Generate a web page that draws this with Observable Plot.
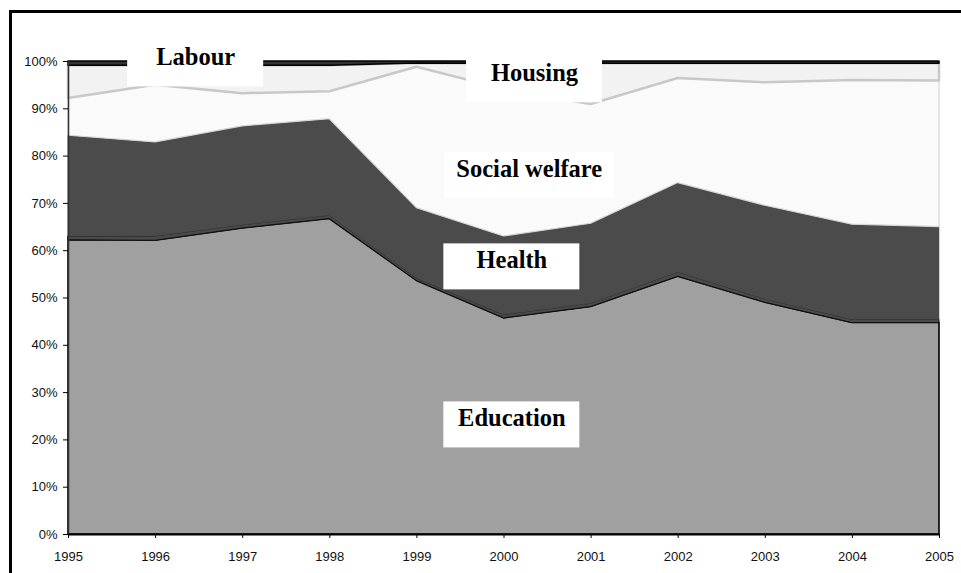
<!DOCTYPE html>
<html>
<head>
<meta charset="utf-8">
<script src="https://cdn.jsdelivr.net/npm/d3@7"></script>
<script src="https://cdn.jsdelivr.net/npm/@observablehq/plot@0.6"></script>
<style>
  html, body { margin: 0; padding: 0; background: #fff; overflow: hidden; }
  #wrap { position: relative; width: 961px; height: 573px; overflow: hidden; }
  #wrap svg { position: absolute; left: 0; top: 0; }
  #topline { position: absolute; left: 9px; top: 10px; width: 952px; height: 3px; background: #000; }
  #leftline { position: absolute; left: 9px; top: 10px; width: 3px; height: 563px; background: #000; }
</style>
</head>
<body>
<div id="wrap"><div id="topline"></div><div id="leftline"></div></div>
<script>
// ---- data (shares of total, %) ----
const years = [1995, 1996, 1997, 1998, 1999, 2000, 2001, 2002, 2003, 2004, 2005];
const seriesNames = ["Education", "Other", "Health", "Social welfare", "Housing", "Labour"];
const education     = [62.2, 62.1, 64.7, 66.7, 53.6, 45.7, 48.1, 54.5, 49.0, 44.7, 44.7];
const other         = [ 0.8,  0.9,  0.7,  0.7,  0.5,  0.7,  0.7,  0.9,  0.7,  0.7,  0.7];
const health        = [21.3, 19.9, 20.9, 20.4, 14.9, 16.6, 16.9, 18.9, 19.8, 20.1, 19.6];
const socialWelfare = [ 7.9, 12.1,  6.9,  5.8, 29.8, 31.1, 25.2, 22.1, 26.0, 30.5, 30.9];
const housing       = [ 6.9,  4.1,  5.9,  5.5,  0.8,  5.4,  8.6,  3.1,  4.0,  3.5,  3.6];
const labour        = [ 0.9,  0.9,  0.9,  0.9,  0.4,  0.5,  0.5,  0.5,  0.5,  0.5,  0.5];
const yTicks = [0, 0.1, 0.2, 0.3, 0.4, 0.5, 0.6, 0.7, 0.8, 0.9, 1];

// annotation labels (name, year, share)
const labelNames  = ["Labour", "Housing", "Social welfare", "Health", "Education"];
const labelYears  = [1996.46, 2000.35, 2000.29, 2000.09, 2000.09];
const labelShares = [0.995, 0.9614, 0.7592, 0.5658, 0.2317];

// ---- styles ----
const fillOf   = {"Education": "#a0a0a0", "Other": "#4a4a4a", "Health": "#4b4b4b",
                  "Social welfare": "#fafafa", "Housing": "#f2f2f2", "Labour": "#333333"};
const strokeOf = {"Education": "#000000", "Other": "#111111", "Health": "#4b4b4b",
                  "Social welfare": "#d6d6d6", "Housing": "#c8c8c8", "Labour": "#000000"};
const widthOf  = {"Education": 1.6, "Other": 1, "Health": 0.5,
                  "Social welfare": 1.2, "Housing": 2.5, "Labour": 1.5};
const boxWidthOf = {"Labour": 136, "Housing": 136, "Social welfare": 170, "Health": 136, "Education": 136};

const valuesBySeries = [education, other, health, socialWelfare, housing, labour];
const tidy = [];
seriesNames.forEach((s, k) => years.forEach((yr, i) => tidy.push({series: s, year: yr, value: valuesBySeries[k][i]})));
const labels = labelNames.map((n, i) => ({name: n, year: labelYears[i], share: labelShares[i]}));

const boxMarks = labels.map(l => Plot.rect([l], {
  x1: "year", x2: "year", y1: "share", y2: "share",
  insetLeft: -boxWidthOf[l.name] / 2, insetRight: -boxWidthOf[l.name] / 2,
  insetTop: -23, insetBottom: -23, fill: "#ffffff"
}));

const axisFont = "'Liberation Sans', Arial, sans-serif";

const chart = Plot.plot({
  width: 961,
  height: 573,
  marginLeft: 68,
  marginRight: 22,
  marginTop: 61,
  marginBottom: 39,
  style: {fontFamily: axisFont, color: "#000", background: "transparent", overflow: "visible"},
  color: {type: "identity"},
  x: {domain: [1995, 2005]},
  y: {domain: [0, 1]},
  marks: [
    Plot.areaY(tidy, {
      x: "year", y: "value", z: "series", order: seriesNames, offset: "normalize",
      fill: d => fillOf[d.series], stroke: d => strokeOf[d.series], strokeWidth: d => widthOf[d.series]
    }),
    Plot.ruleX([1995], {stroke: "#333", strokeWidth: 1.5}),
    Plot.ruleY([0], {stroke: "#000", strokeWidth: 2}),
    Plot.axisX({ticks: years, tickFormat: d => String(d), tickSize: 4, tickPadding: 13,
                label: null, fontSize: 13, fontFamily: axisFont, stroke: "#000", fill: "#111"}),
    Plot.axisY({ticks: yTicks, tickFormat: d3.format(".0%"), tickSize: 5, tickPadding: 6,
                label: null, fontSize: 13, fontFamily: axisFont, stroke: "#000", fill: "#111"}),
    ...boxMarks,
    Plot.text(labels, {
      x: "year", y: "share", text: "name", lineAnchor: "top", dy: -16,
      fontFamily: "'Liberation Serif', 'Times New Roman', serif", fontWeight: "bold", fontSize: 24.5, fill: "#000"
    })
  ]
});
document.getElementById("wrap").insertBefore(chart, document.getElementById("topline"));
</script>
</body>
</html>
